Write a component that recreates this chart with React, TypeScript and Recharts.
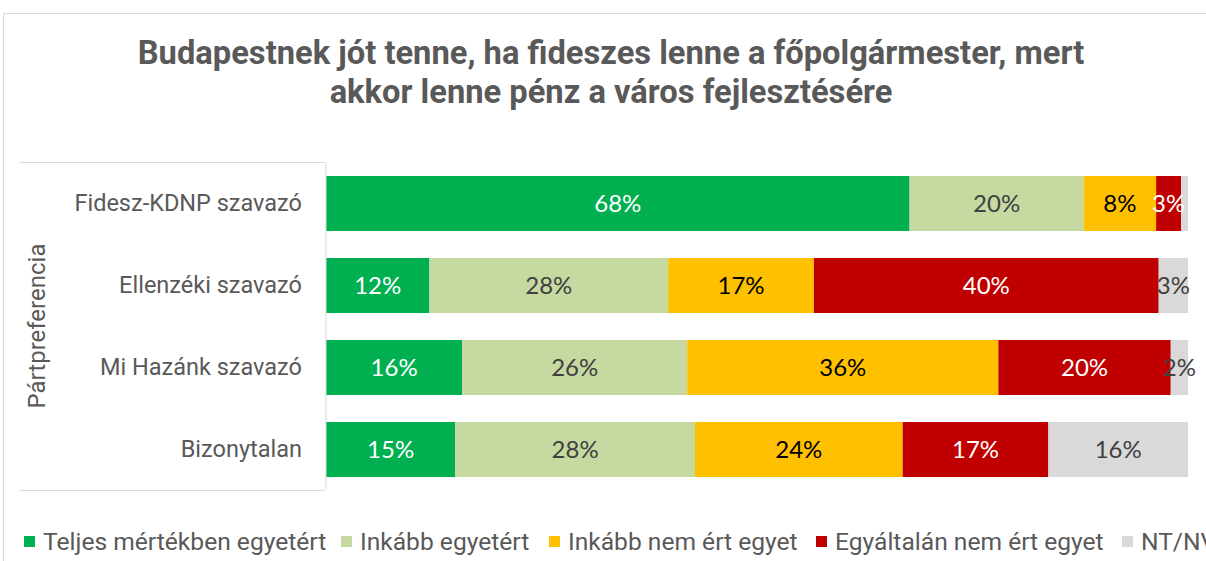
import React from 'react';
import { BarChart, Bar, XAxis, YAxis, LabelList, Legend } from 'recharts';

// Kategóriák és sorozatok (a képről leolvasott értékek)
const categories = ['Fidesz-KDNP szavazó', 'Ellenzéki szavazó', 'Mi Hazánk szavazó', 'Bizonytalan'];
const teljesen = [67.7, 12.0, 15.8, 15.0];
const inkabbIgen = [20.2, 27.7, 26.1, 27.8];
const inkabbNem = [8.4, 16.9, 36.1, 24.1];
const egyaltalan = [2.9, 40.0, 20.0, 16.9];
const ntnv = [0.8, 3.4, 2.0, 16.2];

const seriesNames = [
  'Teljes mértékben egyetért',
  'Inkább egyetért',
  'Inkább nem ért egyet',
  'Egyáltalán nem ért egyet',
  'NT/NV',
];
const colors = ['#00b050', '#c5d9a0', '#ffc000', '#c00000', '#d9d9d9'];
const labelColors = ['#ffffff', '#404040', '#000000', '#ffffff', '#404040'];
const legendX = [24, 341, 549, 816, 1122];

const FONT = 'Roboto, sans-serif';
const LABEL_FONT = 'Lato, sans-serif';

const chartData = categories.map((name, i) => ({
  name,
  s0: teljesen[i],
  s1: inkabbIgen[i],
  s2: inkabbNem[i],
  s3: egyaltalan[i],
  s4: ntnv[i],
}));

const CategoryTick = (props: any) => {
  const { x, y, payload } = props;
  return (
    <text x={x - 16} y={y} dy={8} textAnchor="end" fill="#595959" fontSize={23.5} fontFamily={FONT}>
      {payload.value}
    </text>
  );
};

const LegendContent = () => (
  <div style={{ position: 'relative', width: 1206, height: 30, fontFamily: FONT, fontSize: 24.6, color: '#595959' }}>
    {seriesNames.map((n, i) => (
      <div key={n} style={{ position: 'absolute', left: legendX[i], top: 0, display: 'flex', alignItems: 'center', whiteSpace: 'nowrap' }}>
        <span style={{ display: 'inline-block', width: 11, height: 11, background: colors[i], marginRight: 8 }} />
        <span>{n}</span>
      </div>
    ))}
  </div>
);

const App: React.FC = () => {
  return (
    <div style={{ position: 'absolute', left: 0, top: 0, width: 1206, height: 561, overflow: 'hidden', background: '#fff' }}>
      <div style={{ position: 'absolute', left: 3, top: 13, width: 1260, height: 600, border: '1px solid #d9d9d9' }} />
      <div style={{ position: 'absolute', left: 0, top: 34, width: 1222, textAlign: 'center', fontFamily: FONT, fontWeight: 700, fontSize: 32.7, lineHeight: '39px', color: '#595959' }}>
        Budapestnek jót tenne, ha fideszes lenne a főpolgármester, mert
        <br />
        akkor lenne pénz a város fejlesztésére
      </div>
      {/* tengelydoboz */}
      <div style={{ position: 'absolute', left: 20, top: 162, width: 305, height: 0, borderTop: '1px solid #d9d9d9' }} />
      <div style={{ position: 'absolute', left: 20, top: 490, width: 305, height: 0, borderTop: '1px solid #d9d9d9' }} />
      <div style={{ position: 'absolute', left: 37, top: 326, transform: 'translate(-50%, -50%) rotate(-90deg)', fontFamily: FONT, fontSize: 24, color: '#595959', whiteSpace: 'nowrap' }}>
        Pártpreferencia
      </div>
      <div style={{ position: 'absolute', left: 0, top: 0 }}>
        <BarChart
          width={1206}
          height={561}
          data={chartData}
          layout="vertical"
          barSize={55}
          margin={{ top: 162, right: 18, bottom: 41, left: 20 }}
        >
          <XAxis type="number" domain={[0, 100]} hide />
          <YAxis
            type="category"
            dataKey="name"
            width={306}
            tickLine={false}
            axisLine={{ stroke: '#d9d9d9' }}
            tick={<CategoryTick />}
          />
          <Legend
            content={<LegendContent />}
            wrapperStyle={{ position: 'absolute', left: 0, top: 527, width: 1206 }}
          />
          {colors.map((c, i) => (
            <Bar key={i} dataKey={`s${i}`} name={seriesNames[i]} stackId="a" fill={c} isAnimationActive={false}>
              <LabelList
                dataKey={`s${i}`}
                position="center"
                fill={labelColors[i]}
                fontSize={24}
                fontFamily={LABEL_FONT}
                formatter={(v: any) => (Number(v) < 1 ? '' : `${Math.round(Number(v))}%`)}
              />
            </Bar>
          ))}
        </BarChart>
      </div>
    </div>
  );
};

export default App;
